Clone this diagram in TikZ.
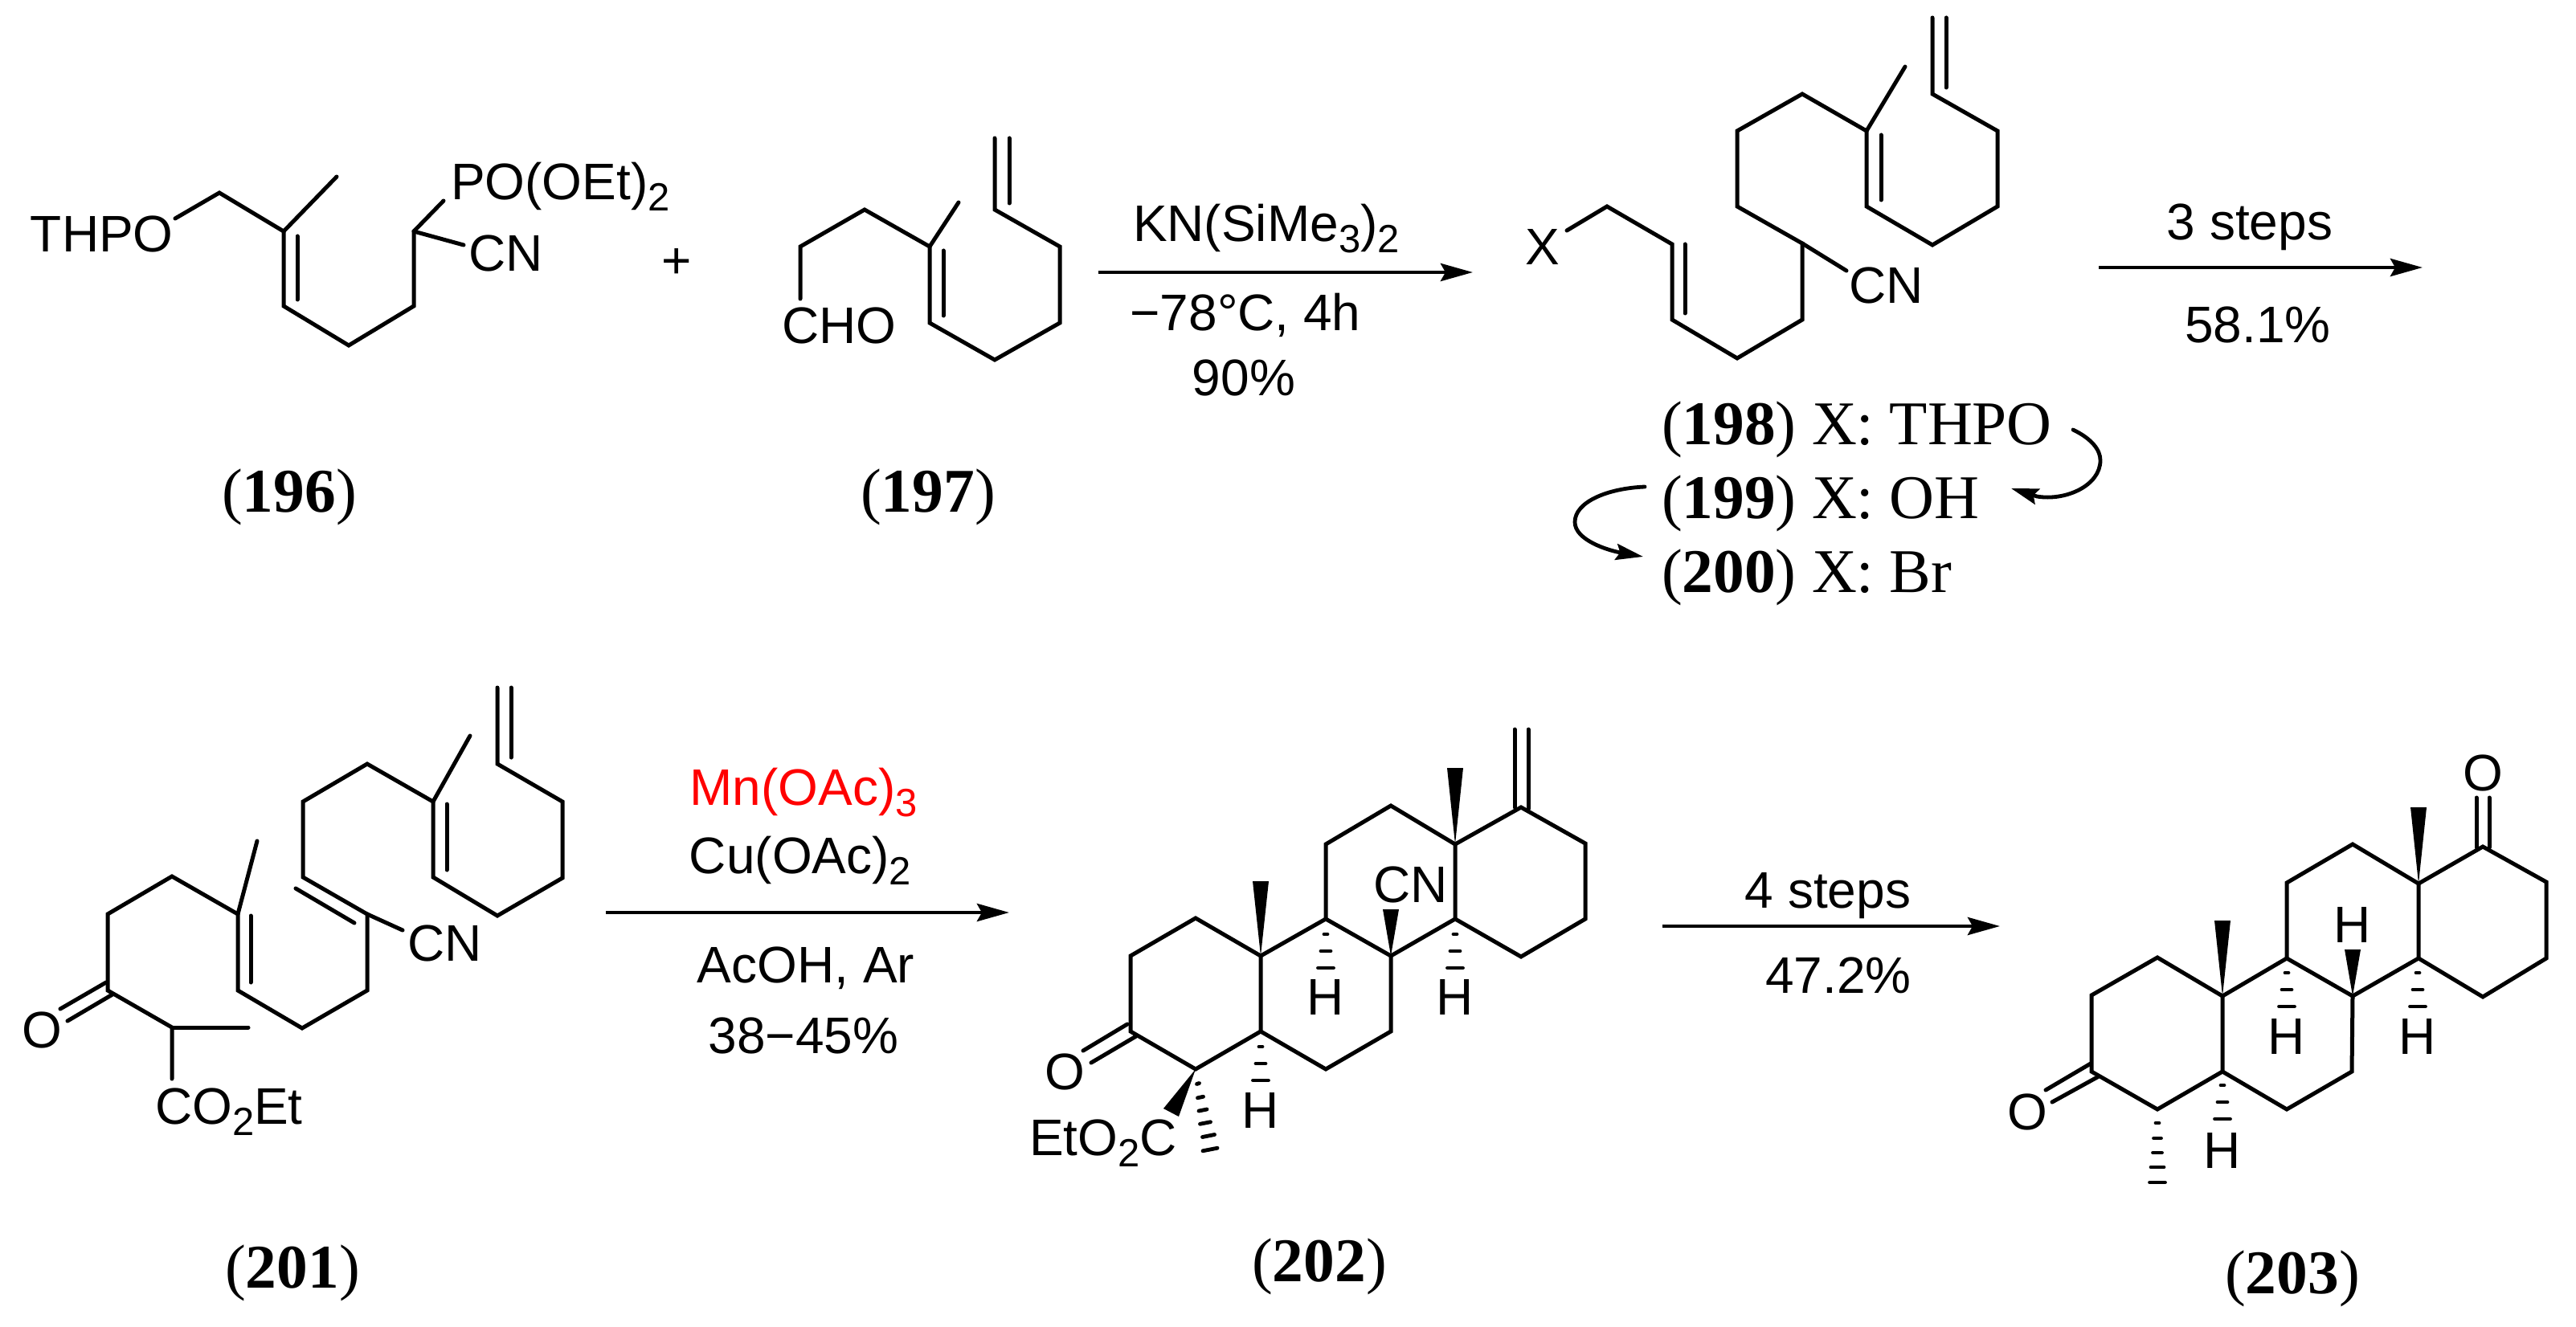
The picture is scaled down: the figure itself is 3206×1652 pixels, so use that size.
\documentclass[tikz,border=0pt]{standalone}
\usepackage{fontspec}
\setmainfont{Liberation Serif}
\newfontfamily\chemfont{Liberation Sans}
\usetikzlibrary{arrows.meta}
\newcommand{\sbs}[1]{\raisebox{-7pt}{\fontsize{24.5}{28}\selectfont #1}}
\newcommand{\wedgeb}[3]{\fill (#1,#2) -- ({#1-10},#3) -- ({#1+10},#3) -- cycle;}
\newcommand{\hashd}[4]{\draw[hashbond] ({#1-#3/2+2},{#2+#4/2}) -- ({#1+#3/2-2},{#2-#4/2});}
\newcommand{\hashthree}[2]{\hashd{#1}{#2}{8}{0}\hashd{#1}{#2+21}{16}{0}\hashd{#1}{#2+42}{23}{0}}
\tikzset{
  bond/.style={line width=2.5pt,line join=miter,line cap=round},
  hashbond/.style={line width=2.4pt,line cap=round},
  rxn/.style={line width=2.4pt,-{Stealth[length=20pt,width=11pt,inset=3pt]}},
  turn/.style={line width=2.4pt,line cap=round,-{Stealth[length=17pt,width=10pt,inset=2.5pt]}},
  chem/.style={font=\chemfont\fontsize{32}{38}\selectfont,inner sep=0pt,outer sep=0pt,anchor=base west},
  atom/.style={chem,anchor=base},
  reagent/.style={chem,anchor=base},
  cmpd/.style={font=\fontsize{38.7}{46}\selectfont,inner sep=0pt,outer sep=0pt,anchor=base},
  cmpdl/.style={cmpd,anchor=base west}
}
\begin{document}
\begin{tikzpicture}[x=0.5pt,y=-0.5pt]
\useasboundingbox (0,0) rectangle (3206,1652);
% ---- 196
\begin{scope}[bond]
\draw (218,272)--(273,240)--(353,288)--(353,381)--(434,430)--(515,381)--(515,288)--(552,250);
\draw (515,288)--(577,305);
\draw (353,288)--(419,220);
\draw (370,294)--(370,373);
\end{scope}
\node[chem] (thpo) at (38,314) {THPO};
\node[chem] (po) at (561,249) {PO(OEt)\sbs{2}};
\node[chem] (cn196) at (583,338) {CN};
\node[atom] (plus) at (842,347) {+};
\node[cmpd] (l196) at (360,637) {(\textbf{196})};
% ---- 197
\begin{scope}[bond]
\draw (996,372)--(996,307)--(1076,261)--(1157,307)--(1157,402)--(1238,448)--(1319,402)--(1319,307)--(1238,261)--(1238,172);
\draw (1256,172)--(1256,253);
\draw (1157,307)--(1193,252);
\draw (1174,312)--(1174,393);
\end{scope}
\node[chem] (cho) at (973,428) {CHO};
\node[cmpd] (l197) at (1155,637) {(\textbf{197})};
% ---- arrow 1
\coordinate (a1s) at (1367,339);
\coordinate (a1e) at (1833,339);
\draw[rxn] (a1s) -- (a1e);
\node[reagent] (r1a) at (1576,301) {KN(SiMe\sbs{3})\sbs{2}};
\node[reagent] (r1b) at (1550,412) {−78°C, 4h};
\node[reagent] (r1c) at (1548,493) {90\%};
% ---- 198
\begin{scope}[bond]
\draw (1950,287)--(2000,257)--(2081,304)--(2081,398)--(2162,446)--(2243,398)--(2243,303)--(2162,257)--(2162,163)--(2243,117)--(2323,163)--(2323,257)--(2405,305)--(2486,257)--(2486,163)--(2405,117)--(2405,22);
\draw (2422,22)--(2422,109);
\draw (2323,163)--(2371,83);
\draw (2341,168)--(2341,249);
\draw (2097,304)--(2097,390);
\draw (2243,303)--(2298,337);
\end{scope}
\node[chem] (x198) at (1898,330) {X};
\node[chem] (cn198) at (2301,378) {CN};
\node[cmpdl] (l198) at (2068,553) {(\textbf{198}) X: THPO};
\node[cmpdl] (l199) at (2068,645) {(\textbf{199}) X: OH};
\node[cmpdl] (l200) at (2068,737) {(\textbf{200}) X: Br};
\coordinate (c1s) at (2580,535);
\coordinate (c1e) at (2503,608);
\draw[turn] (c1s) .. controls (2603,546) and (2614,560) .. (2614,573) .. controls (2614,605) and (2570,624) .. (2535,618) -- (c1e);
\coordinate (c2s) at (2047,606);
\coordinate (c2e) at (2045,693);
\draw[turn] (c2s) .. controls (2000,608) and (1960,625) .. (1960,650) .. controls (1960,672) and (2000,685) .. (c2e);
% ---- arrow 2
\coordinate (a2s) at (2612,333);
\coordinate (a2e) at (3015,333);
\draw[rxn] (a2s) -- (a2e);
\node[reagent] (r2a) at (2800,299) {3 steps};
\node[reagent] (r2b) at (2810,427) {58.1\%};
% ---- 201
\begin{scope}[bond]
\draw (619,856)--(619,951)--(700,998)--(700,1093)--(619,1140)--(539,1092)--(539,998)--(457,951)--(377,998)--(377,1092)--(457,1138)--(457,1233)--(376,1280)--(296,1233)--(296,1138)--(214,1091)--(134,1138)--(134,1233)--(214,1279)--(214,1343);
\draw (636,856)--(636,943);
\draw (539,998)--(585,916);
\draw (556,1001)--(556,1083);
\draw (368,1106)--(441,1149);
\draw (457,1138)--(501,1158);
\draw (312,1140)--(312,1223);
\draw (296,1138)--(320,1047);
\draw (214,1279)--(309,1279);
\draw (132,1223)--(75,1256);
\draw (140,1238)--(84,1271);
\end{scope}
\node[atom] (o201) at (52,1304) {O};
\node[chem] (cn201) at (507,1196) {CN};
\node[chem] (co2et) at (193,1399) {CO\sbs{2}Et};
\node[cmpd] (l201) at (364,1603) {(\textbf{201})};
% ---- arrow 3
\coordinate (a3s) at (754,1136);
\coordinate (a3e) at (1256,1136);
\draw[rxn] (a3s) -- (a3e);
\node[reagent,text=red] (r3a) at (1000,1002) {Mn(OAc)\sbs{3}};
\node[reagent] (r3b) at (996,1087) {Cu(OAc)\sbs{2}};
\node[reagent] (r3c) at (1003,1223) {AcOH, Ar};
\node[reagent] (r3d) at (1000,1311) {38−45\%};
% ---- 202
\begin{scope}[bond]
\draw (1407,1190)--(1488,1143)--(1569,1190)--(1569,1284)--(1488,1331)--(1407,1284)--cycle;
\draw (1569,1190)--(1650,1144)--(1731,1190)--(1731,1284)--(1650,1331)--(1569,1284);
\draw (1650,1144)--(1650,1051)--(1731,1003)--(1811,1051)--(1811,1144)--(1731,1190);
\draw (1811,1051)--(1893,1005)--(1973,1050)--(1973,1144)--(1893,1191)--(1811,1144);
\draw (1885,908)--(1885,1005);
\draw (1902,908)--(1902,1007);
\draw (1403,1275)--(1348,1308);
\draw (1414,1290)--(1358,1323);
\end{scope}
\wedgeb{1811}{1051}{956}
\wedgeb{1569}{1190}{1097}
\wedgeb{1731}{1190}{1132}
\fill (1488,1331) -- (1448,1380) -- (1467,1390) -- cycle;
\hashthree{1650}{1163}
\hashthree{1811}{1163}
\hashthree{1569}{1303}
\hashd{1491}{1349}{7}{1}
\hashd{1494}{1366}{11}{1.5}
\hashd{1497}{1382}{14}{2}
\hashd{1500}{1398}{17}{2.5}
\hashd{1504}{1414}{19}{3}
\hashd{1506}{1431}{22}{3.5}
\node[chem] (cn202) at (1709,1123) {CN};
\node[atom] (h1) at (1650,1263) {H};
\node[atom] (h2) at (1811,1263) {H};
\node[atom] (h3) at (1569,1404) {H};
\node[atom] (o202) at (1325,1356) {O};
\node[chem] (eto2c) at (1281,1438) {EtO\sbs{2}C};
\node[cmpd] (l202) at (1642,1595) {(\textbf{202})};
% ---- arrow 4
\coordinate (a4s) at (2069,1153);
\coordinate (a4e) at (2489,1153);
\draw[rxn] (a4s) -- (a4e);
\node[reagent] (r4a) at (2275,1130) {4 steps};
\node[reagent] (r4b) at (2288,1236) {47.2\%};
% ---- 203
\begin{scope}[bond]
\draw (2603,1239)--(2685,1192)--(2766,1240)--(2766,1334)--(2685,1381)--(2603,1334)--cycle;
\draw (2766,1240)--(2846,1193)--(2928,1240)--(2927,1334)--(2846,1381)--(2766,1334);
\draw (2846,1193)--(2846,1099)--(2928,1051)--(3010,1100)--(3010,1193)--(2928,1240);
\draw (3010,1100)--(3090,1054)--(3169,1098)--(3169,1193)--(3090,1241)--(3010,1193);
\draw (3082,993)--(3082,1055);
\draw (3098,993)--(3098,1055);
\draw (2602,1324)--(2546,1357);
\draw (2612,1340)--(2554,1372);
\end{scope}
\wedgeb{3010}{1100}{1005}
\wedgeb{2766}{1240}{1146}
\wedgeb{2928}{1240}{1182}
\hashthree{2846}{1211}
\hashthree{3009}{1211}
\hashthree{2766}{1351}
\hashd{2685}{1398}{8}{0}
\hashd{2685}{1417}{13}{0}
\hashd{2685}{1435}{15}{0}
\hashd{2685}{1453}{20}{0}
\hashd{2685}{1472}{23}{0}
\node[atom] (h4) at (2928,1173) {H};
\node[atom] (h5) at (2846,1312) {H};
\node[atom] (h6) at (3009,1312) {H};
\node[atom] (h7) at (2766,1454) {H};
\node[atom] (o203a) at (2523,1406) {O};
\node[atom] (o203b) at (3090,984) {O};
\node[cmpd] (l203) at (2853,1610) {(\textbf{203})};
\end{tikzpicture}
\end{document}
